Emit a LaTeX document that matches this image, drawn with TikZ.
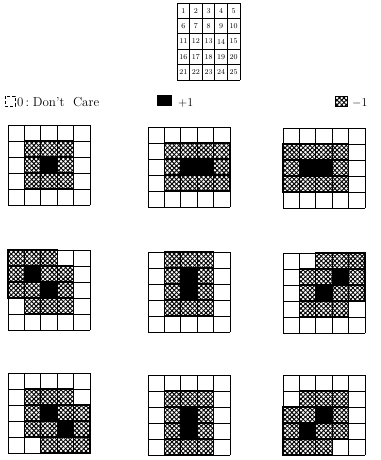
\documentclass[tikz,border=0pt]{standalone}
\usetikzlibrary{patterns.meta}
\begin{document}
\begin{tikzpicture}[x=1pt,y=-1pt,
  gridline/.style={line width=0.7pt,black},
  cellborder/.style={line width=1.2pt,black},
  hatchA/.style={pattern={Lines[angle=45,distance=3.2pt,line width=0.95pt]},pattern color=black},
  hatchB/.style={pattern={Lines[angle=-45,distance=3.2pt,line width=0.95pt]},pattern color=black},
  numtext/.style={font=\fontsize{7.5}{8}\selectfont,inner sep=0pt},
  legtext/.style={font=\fontsize{13}{14}\selectfont,inner sep=0pt,anchor=base west}]
\useasboundingbox (0,0) rectangle (380,460);
\def\cw{16.4}
\def\ch{16}
\newcommand\cellgrid[4]{%
 \begin{scope}[shift={(#1,#2)}]
  \foreach \c/\r in {#3} {
    \fill[hatchA] (\c*\cw,\r*\ch) rectangle ++(\cw,\ch);
    \fill[hatchB] (\c*\cw,\r*\ch) rectangle ++(\cw,\ch);
  }
  \foreach \c/\r in {#4} {
    \fill[black] (\c*\cw,\r*\ch) rectangle ++(\cw,\ch);
  }
  \foreach \i in {0,...,5} {
    \draw[gridline] (\i*\cw,0) -- (\i*\cw,5*\ch);
    \draw[gridline] (0,\i*\ch) -- (5*\cw,\i*\ch);
  }
  \foreach \c/\r in {#3,#4} {
    \draw[cellborder] (\c*\cw,\r*\ch) rectangle ++(\cw,\ch);
  }
 \end{scope}}

% numbered reference grid
\def\tw{12.6}
\def\th{15.4}
\begin{scope}[shift={(177,3)}]
  \foreach \i in {0,...,5} {
    \draw[gridline] (\i*\tw,0) -- (\i*\tw,5*\th);
    \draw[gridline] (0,\i*\th) -- (5*\tw,\i*\th);
  }
  \foreach \r in {0,...,4} {
    \foreach \c in {0,...,4} {
      \pgfmathtruncatemacro\n{\r*5+\c+1}
      \node[numtext] (n\n) at (\c*\tw+0.5*\tw,\r*\th+0.5*\th) {\n};
    }
  }
\end{scope}

% legend
\draw[line width=0.6pt,densely dashed] (5,96) rectangle (15,106);
\node[legtext] (l0) at (17,106) {0\,:\;Don't\ \ Care};
\fill[black] (157,95) rectangle (172,106);
\node[legtext] (l1) at (178,106) {$+1$};
\fill[hatchA] (335,96) rectangle (347,106);
\fill[hatchB] (335,96) rectangle (347,106);
\draw[line width=0.5pt] (335,96) rectangle (347,106);
\node[legtext] (l2) at (352,106) {$-1$};

% row 1
\cellgrid{8}{125}{1/1,2/1,3/1,1/2,3/2,1/3,2/3,3/3}{2/2}
\cellgrid{148}{127}{1/1,2/1,3/1,4/1,1/2,4/2,1/3,2/3,3/3,4/3}{2/2,3/2}
\cellgrid{283}{128}{0/1,1/1,2/1,3/1,0/2,3/2,0/3,1/3,2/3,3/3}{1/2,2/2}
% row 2
\cellgrid{8}{250}{0/0,1/0,2/0,0/1,2/1,3/1,0/2,1/2,3/2,1/3,2/3,3/3}{1/1,2/2}
\cellgrid{148}{252}{1/0,2/0,3/0,1/1,3/1,1/2,3/2,1/3,2/3,3/3}{2/1,2/2}
\cellgrid{283}{253}{2/0,3/0,4/0,1/1,2/1,4/1,1/2,3/2,4/2,1/3,2/3,3/3}{3/1,2/2}
% row 3
\cellgrid{8}{373}{1/1,2/1,3/1,1/2,3/2,4/2,1/3,2/3,4/3,2/4,3/4,4/4}{2/2,3/3}
\cellgrid{148}{375}{1/1,2/1,3/1,1/2,3/2,1/3,3/3,1/4,2/4,3/4}{2/2,2/3}
\cellgrid{283}{375}{1/1,2/1,3/1,0/2,1/2,3/2,0/3,2/3,3/3,0/4,1/4,2/4}{2/2,1/3}
\end{tikzpicture}
\end{document}
